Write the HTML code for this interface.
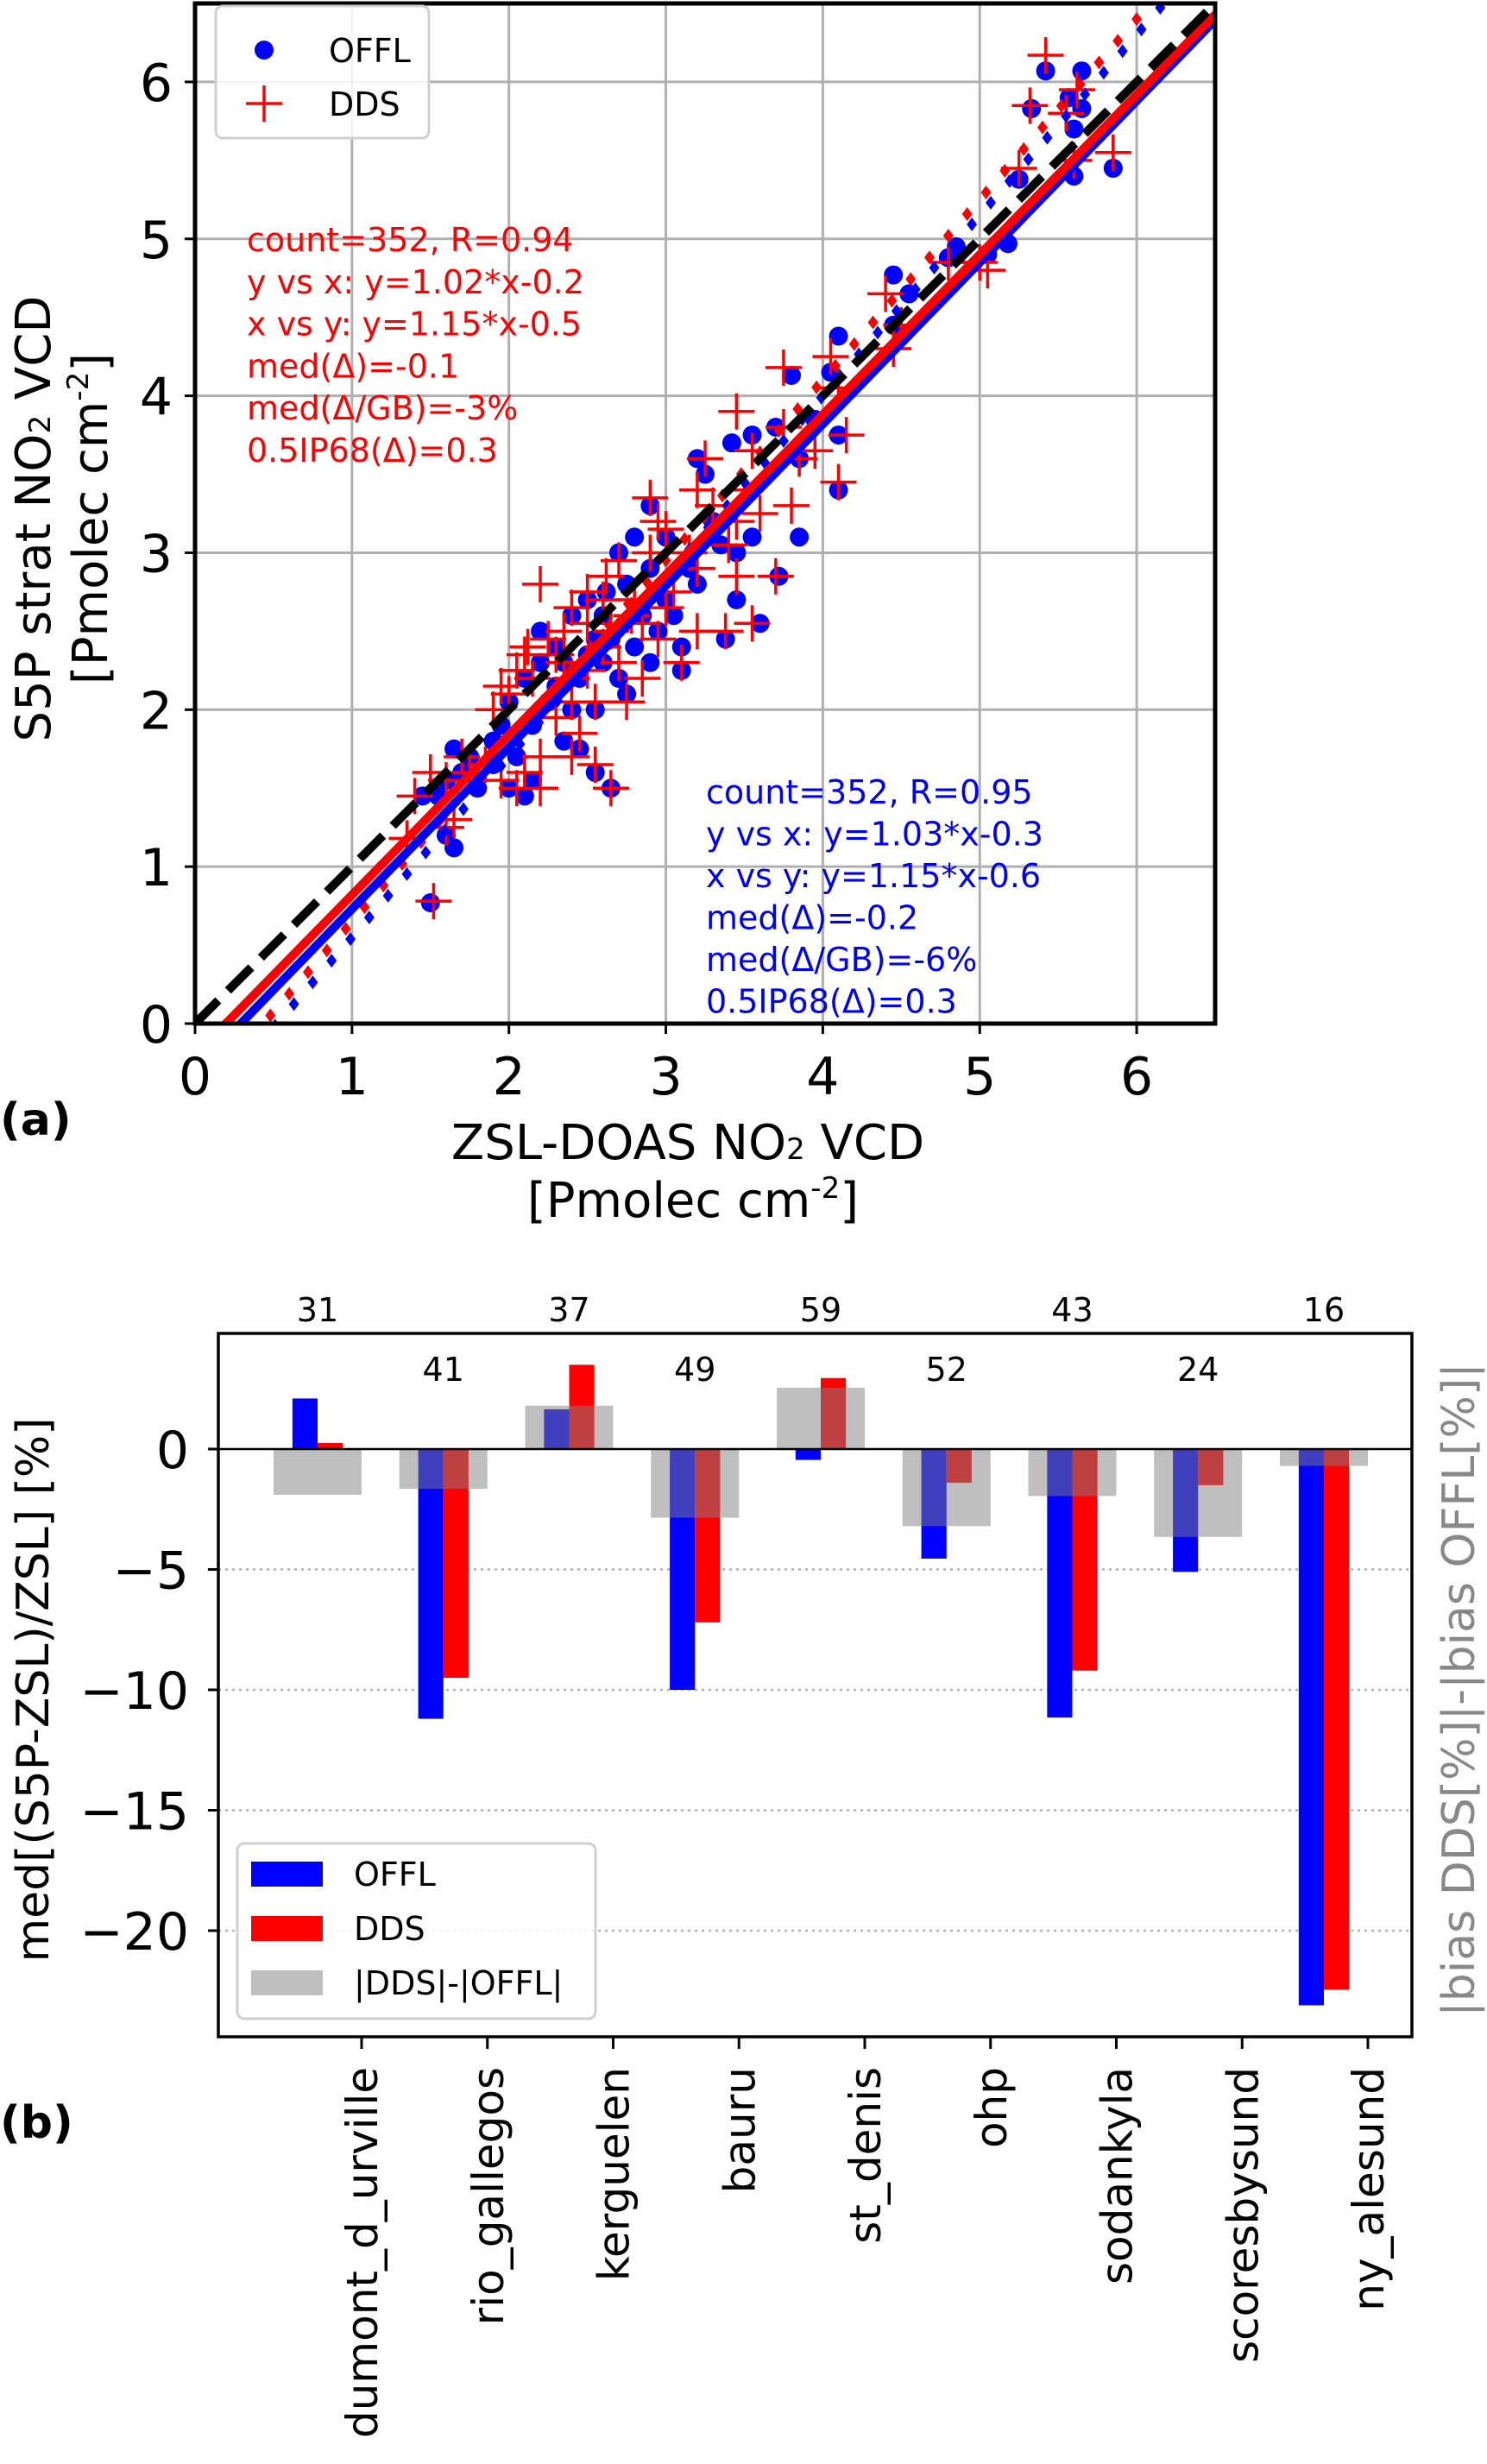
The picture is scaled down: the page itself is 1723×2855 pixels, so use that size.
<!DOCTYPE html>
<html><head><meta charset="utf-8"><style>
html,body{margin:0;padding:0;background:#fff;overflow:hidden;}
svg{display:block;font-family:"DejaVu Sans","Liberation Sans",sans-serif;}
</style></head><body>
<svg id="fig" width="1723" height="2855" viewBox="0 0 1723 2855" xmlns="http://www.w3.org/2000/svg">
<g id="pa"></g>
<g id="pb"></g>
</svg>
<script>
// ---- Panel (a) data ----
const offlX = [5.42,5.65,5.33,5.57,5.65,5.6,5.85,5.6,5.25,5.18,5.05,4.85,4.8,4.45,4.55,4.45,4.1,4.05,3.8,3.85,4.1,4.1,3.95,3.7,3.55,3.42,3.2,3.25,3.85,3.55,3.45,3.35,3.72,3.45,3.38,3.6,3.1,3.1,2.9,2.8,2.7,2.75,2.85,2.95,2.9,2.6,2.5,2.4,2.3,2.45,2.6,2.7,2.75,2.55,2.4,2.25,2.2,2.1,2.0,1.95,2.05,2.15,2.0,2.1,1.8,1.9,1.7,1.65,1.6,1.55,1.45,1.6,1.65,1.5,2.55,2.65,2.35,2.45,3.0,3.15,3.3,3.0,2.65,2.55,2.8,3.2,2.35,2.2,2.9,3.05,2.62,2.5,2.3,2.15,1.9,1.75];
const offlY = [6.07,6.07,5.83,5.9,5.83,5.7,5.45,5.4,5.38,4.97,4.9,4.95,4.88,4.77,4.65,4.45,4.38,4.15,4.13,3.6,3.4,3.75,3.85,3.8,3.75,3.7,3.6,3.5,3.1,3.1,3.0,3.05,2.85,2.7,2.45,2.55,2.25,2.4,3.3,3.1,3.0,2.8,2.6,2.5,2.3,2.6,2.7,2.6,2.4,2.2,2.3,2.2,2.1,2.0,2.0,2.05,2.3,2.2,2.05,1.9,1.7,1.55,1.5,1.45,1.5,1.65,1.6,1.75,1.55,1.45,1.45,1.2,1.12,0.77,1.6,1.5,1.8,1.75,2.7,2.9,3.2,3.1,2.45,2.45,2.4,2.8,2.3,2.5,2.9,2.6,2.75,2.35,2.15,1.9,1.8,1.7];
const ddsX = [5.42,5.32,5.62,5.55,5.6,5.85,5.25,5.0,5.05,4.8,4.4,4.5,4.45,4.05,4.1,3.75,3.75,4.15,4.1,3.95,3.85,3.8,3.45,3.55,3.25,3.2,3.45,3.6,3.4,3.45,3.38,3.55,3.7,3.1,3.2,2.9,2.95,2.7,2.8,2.85,2.95,3.0,2.6,2.5,2.4,2.35,2.2,2.25,2.1,2.05,2.0,1.95,2.15,2.4,2.5,2.6,2.7,2.75,2.55,2.4,2.3,2.2,2.1,2.05,2.2,1.95,1.85,1.75,1.7,1.6,1.5,1.4,1.35,1.6,1.65,1.52,2.55,2.65,2.4,2.45,3.05,3.15,3.3,3.0,2.65,2.85,3.2,3.5,2.3,1.9,2.62,2.78,2.5,2.35,2.12,2.9];
const ddsY = [6.17,5.85,5.95,5.8,5.5,5.55,5.45,4.85,4.8,4.85,4.65,4.45,4.3,4.25,4.05,4.18,3.8,3.75,3.45,3.65,3.6,3.3,3.9,3.65,3.6,3.4,3.2,3.25,3.05,2.85,2.5,2.55,2.85,2.3,2.5,3.35,3.2,2.95,2.7,2.55,2.45,2.65,2.7,2.75,2.65,2.5,2.8,2.45,2.35,2.25,2.1,2.15,2.2,2.2,2.25,2.4,2.3,2.05,2.05,2.05,1.95,1.7,1.6,1.5,1.5,1.55,1.65,1.6,1.7,1.55,1.6,1.45,1.18,1.25,1.3,0.78,1.65,1.5,1.7,1.85,2.75,3.0,3.3,3.15,2.5,2.2,2.9,3.4,2.35,2.0,2.85,2.6,2.55,2.3,2.4,3.0];
const aTicks = [0,1,2,3,4,5,6];
const fitOffl = [1.03,-0.3], fitDds = [1.02,-0.2], fitOfflXY = [1.15,-0.6], fitDdsXY = [1.15,-0.5];
const statsDds = ["count=352, R=0.94","y vs x: y=1.02*x-0.2","x vs y: y=1.15*x-0.5","med(Δ)=-0.1","med(Δ/GB)=-3%","0.5IP68(Δ)=0.3"];
const statsOffl = ["count=352, R=0.95","y vs x: y=1.03*x-0.3","x vs y: y=1.15*x-0.6","med(Δ)=-0.2","med(Δ/GB)=-6%","0.5IP68(Δ)=0.3"];

// ---- Panel (b) data ----
const stations = ["dumont_d_urville","rio_gallegos","kerguelen","bauru","st_denis","ohp","sodankyla","scoresbysund","ny_alesund"];
const counts = [31,41,37,49,59,52,43,24,16];
const biasOffl = [2.1,-11.2,1.65,-10.0,-0.45,-4.55,-11.15,-5.1,-23.1];
const biasDds = [0.25,-9.5,3.5,-7.2,2.95,-1.4,-9.2,-1.5,-22.45];
const biasDiff = [-1.9,-1.65,1.8,-2.85,2.55,-3.2,-1.95,-3.65,-0.7];
const bTicks = [0,-5,-10,-15,-20];

const NS="http://www.w3.org/2000/svg";
function mk(parent,tag,attrs,text){const e=document.createElementNS(NS,tag);for(const k in attrs)e.setAttribute(k,attrs[k]);if(text!==undefined)e.textContent=text;parent.appendChild(e);return e;}

// ===== Panel (a) =====
const pa=document.getElementById('pa');
const AL=226,AR=1408,AT=4,AB=1186;
const ax=v=>AL+(v/6.5)*(AR-AL);
const ay=v=>AB-(v/6.5)*(AB-AT);
mk(pa,'defs',{}).innerHTML='<clipPath id="clipA"><rect x="'+AL+'" y="'+AT+'" width="'+(AR-AL)+'" height="'+(AB-AT)+'"/></clipPath>';
aTicks.forEach(t=>{
  let g=mk(pa,'line',{x1:ax(t),x2:ax(t),y1:AT,y2:AB,stroke:'#b0b0b0','stroke-width':3});
  
  
  let h=mk(pa,'line',{x1:AL,x2:AR,y1:ay(t),y2:ay(t),stroke:'#b0b0b0','stroke-width':3});
  
  
  let tx=mk(pa,'text',{x:ax(t),y:1268,'font-size':60,'text-anchor':'middle'},String(t));
  
  
  let ty=mk(pa,'text',{x:200,y:ay(t)+22,'font-size':60,'text-anchor':'end'},String(t));
  
  
  mk(pa,'line',{x1:ax(t),x2:ax(t),y1:AB,y2:AB+12,stroke:'#000','stroke-width':3});
  mk(pa,'line',{x1:AL-12,x2:AL,y1:ay(t),y2:ay(t),stroke:'#000','stroke-width':3});
});
const pts=mk(pa,'g',{'clip-path':'url(#clipA)'});


function diamonds(fit,color,off){
  for(let x=0;x<=6.6;x+=0.12){
    const y=fit[0]*(x+off)+fit[1];
    const cx=ax(x+off),cy=ay(y);
    let d=mk(pts,'path',{d:`M${cx} ${cy-8}L${cx+6} ${cy}L${cx} ${cy+8}L${cx-6} ${cy}Z`,fill:color});
    
    
  }
}
offlX.forEach((x,i)=>{
  let c=mk(pts,'circle',{cx:ax(x),cy:ay(offlY[i]),r:11,fill:'#0000ff'});
  
  
});
ddsX.forEach((x,i)=>{
  const cx=ax(x),cy=ay(ddsY[i]);
  let p=mk(pts,'path',{d:`M${cx-21} ${cy}H${cx+21}M${cx} ${cy-21}V${cy+21}`,stroke:'#ff0000','stroke-width':3.5,fill:'none'});
  
  
});
diamonds(fitOfflXY,'#0000ff',0.03);
diamonds(fitDdsXY,'#ff0000',0);
function fitLine(fit,color,name){
  let l=mk(pts,'line',{x1:ax(0),y1:ay(fit[1]),x2:ax(6.5),y2:ay(fit[0]*6.5+fit[1]),stroke:color,'stroke-width':10});
  
  
}
fitLine(fitOffl,'#0000ff','offl-fit-line');
fitLine(fitDds,'#ff0000','dds-fit-line');
let one=mk(pts,'line',{x1:ax(0),y1:ay(0),x2:ax(6.5),y2:ay(6.5),stroke:'#000','stroke-width':10,'stroke-dasharray':'38 16'});


let frameA=mk(pa,'rect',{x:AL,y:AT,width:AR-AL,height:AB-AT,fill:'none',stroke:'#000','stroke-width':5});


statsDds.forEach((s,i)=>{let t=mk(pa,'text',{x:286,y:291+i*48.8,'font-size':38,fill:'#ff0000'},s);
 
 });
statsOffl.forEach((s,i)=>{let t=mk(pa,'text',{x:818,y:931+i*48.5,'font-size':38,fill:'#0000ff'},s);
 
 });
const lga=mk(pa,'g',{});


mk(lga,'rect',{x:250,y:7,width:247,height:153,rx:8,fill:'#fff','fill-opacity':0.85,stroke:'#d0d0d0','stroke-width':3});
mk(lga,'circle',{cx:306,cy:58,r:11,fill:'#0000ff'});
mk(lga,'text',{x:381,y:72,'font-size':38},'OFFL');
mk(lga,'path',{d:'M285 120H327M306 99V141',stroke:'#ff0000','stroke-width':3.5});
mk(lga,'text',{x:381,y:134,'font-size':38},'DDS');
let ylA=mk(pa,'text',{transform:'translate(58,601) rotate(-90)','font-size':56,'text-anchor':'middle'},'');
ylA.innerHTML='S5P strat NO<tspan font-size="34">2</tspan> VCD';


let ylA2=mk(pa,'text',{transform:'translate(124,601) rotate(-90)','font-size':56,'text-anchor':'middle'},'');
ylA2.innerHTML='[Pmolec cm<tspan font-size="34" dy="-22">-2</tspan><tspan dy="22">]</tspan>';


let xlA=mk(pa,'text',{x:797,y:1343,'font-size':56,'text-anchor':'middle'},'');
xlA.innerHTML='ZSL-DOAS NO<tspan font-size="34">2</tspan> VCD';


let xlA2=mk(pa,'text',{x:803,y:1410,'font-size':56,'text-anchor':'middle'},'');
xlA2.innerHTML='[Pmolec cm<tspan font-size="34" dy="-22">-2</tspan><tspan dy="22">]</tspan>';


let la=mk(pa,'text',{x:0,y:1315,'font-size':52,'font-weight':'bold'},'(a)');



// ===== Panel (b) =====
const pb=document.getElementById('pb');
const BL=253,BR=1636,BT=1545,BB=2360;
const Y0=1679,PPU=27.9;
const by=v=>Y0-v*PPU;
const tick0=419,SP=145.75;
const bx=i=>tick0+i*SP;
bTicks.forEach(t=>{
  if(t!==0){let g=mk(pb,'line',{x1:BL,x2:BR,y1:by(t),y2:by(t),stroke:'#b0b0b0','stroke-width':2.5,'stroke-dasharray':'3 5'});
  
  }
  mk(pb,'line',{x1:BL-12,x2:BL,y1:by(t),y2:by(t),stroke:'#000','stroke-width':3});
  let tl=mk(pb,'text',{x:219,y:by(t)+22,'font-size':60,'text-anchor':'end'},t<0?'\u2212'+(-t):String(t));
  
  
});
function bar(i,v,o0,o1,color,name,op){
  const y1=by(Math.max(0,v)),y2=by(Math.min(0,v));
  let r=mk(pb,'rect',{x:bx(i)+o0*SP,y:y1,width:(o1-o0)*SP,height:y2-y1,fill:color});
  if(op)r.setAttribute('fill-opacity',op);
  
  
}
stations.forEach((s,i)=>{
  bar(i,biasOffl[i],-0.55,-0.35,'#0000ff','offl-bar');
  bar(i,biasDds[i],-0.35,-0.15,'#ff0000','dds-bar');
  bar(i,biasDiff[i],-0.7,0,'#808080','diff-bar',0.5);
  mk(pb,'line',{x1:bx(i),x2:bx(i),y1:BB,y2:BB+14,stroke:'#000','stroke-width':3});
  let cl=mk(pb,'text',{x:bx(i)-0.35*SP,y:i%2===0?1531:1600,'font-size':38,'text-anchor':'middle'},String(counts[i]));
  
  
  let sl=mk(pb,'text',{transform:`translate(${bx(i)+18},2395) rotate(-90)`,'font-size':50,'text-anchor':'end'},s);
  
  
});
let zl=mk(pb,'line',{x1:BL,x2:BR,y1:Y0,y2:Y0,stroke:'#000','stroke-width':2.5});


let frameB=mk(pb,'rect',{x:BL,y:BT,width:BR-BL,height:BB-BT,fill:'none',stroke:'#000','stroke-width':3.5});


const lgb=mk(pb,'g',{});


mk(lgb,'rect',{x:275,y:2136,width:415,height:203,rx:8,fill:'#fff','fill-opacity':0.85,stroke:'#d0d0d0','stroke-width':3});
mk(lgb,'rect',{x:291,y:2157,width:83,height:29,fill:'#0000ff'});
mk(lgb,'text',{x:410,y:2185,'font-size':38},'OFFL');
mk(lgb,'rect',{x:291,y:2220,width:83,height:29,fill:'#ff0000'});
mk(lgb,'text',{x:410,y:2248,'font-size':38},'DDS');
mk(lgb,'rect',{x:291,y:2283,width:83,height:29,fill:'#bfbfbf'});
mk(lgb,'text',{x:410,y:2311,'font-size':38},'|DDS|-|OFFL|');
let ylB=mk(pb,'text',{transform:'translate(56,1958) rotate(-90)','font-size':52,'text-anchor':'middle'},'med[(S5P-ZSL)/ZSL] [%]');


let yrB=mk(pb,'text',{transform:'translate(1708,1958) rotate(-90)','font-size':52,'text-anchor':'middle',fill:'#888'},'|bias DDS[%]|-|bias OFFL[%]|');


let lb=mk(pb,'text',{x:0,y:2477,'font-size':52,'font-weight':'bold'},'(b)');


</script>
</body></html>
